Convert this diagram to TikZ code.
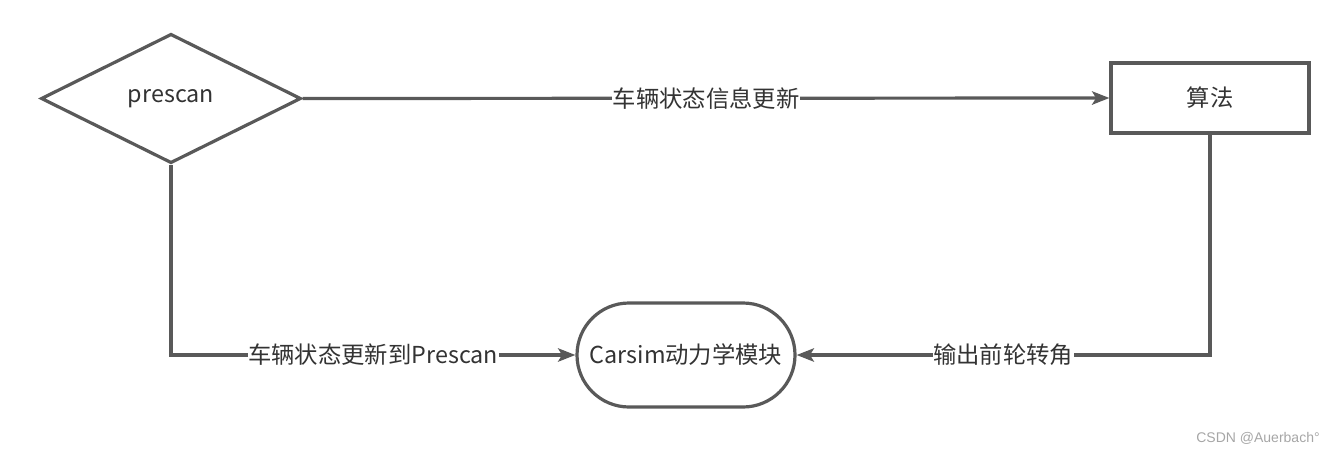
\documentclass[tikz,border=0pt]{standalone}
\usepackage{fontspec}
\setmainfont{Noto Sans CJK SC}
\newfontfamily\markfont{Liberation Sans}
\usepackage{xcolor}
\usetikzlibrary{
    shapes.geometric,
    arrows.meta,
    positioning
}
\definecolor{linegray}{HTML}{595959}
\definecolor{textgray}{HTML}{333333}

\begin{document}
\begin{tikzpicture}[
    x=0.75pt, y=-0.75pt,
    base/.style={
        draw=linegray,
        line width=2.4pt,
        fill=white,
        text=textgray,
        align=center,
        font=\fontsize{17.5}{21}\selectfont
    },
    decision/.style={
        base,
        diamond,
        aspect=2,
        inner sep=0pt,
        minimum width=195pt,
        minimum height=97pt
    },
    process/.style={
        base,
        rectangle,
        minimum width=148.5pt,
        minimum height=52.5pt
    },
    terminal/.style={
        base,
        rectangle,
        rounded corners=39pt,
        minimum width=163.5pt,
        minimum height=78pt
    },
    label/.style={
        fill=white,
        text=textgray,
        inner sep=0.5pt,
        font=\fontsize{17.5}{21}\selectfont
    },
    arrow/.style={
        draw=linegray,
        line width=2.4pt,
        -{Stealth[length=13pt, width=10pt, inset=3pt]}
    }
]
\useasboundingbox (0,0) rectangle (1333,454);

% Blocks
\node[decision] (prescan) at (171, 98.5) {prescan};
\node[process] (algo) at (1210, 98) {算法};
\node[terminal] (carsim) at (686, 355) {Carsim动力学模块};

% Corners of the feedback paths
\coordinate (cl) at (prescan.south |- carsim.west);
\coordinate (cr) at (algo.south |- carsim.east);

% Arrows
\draw[arrow] (prescan.east) -- node[label] {车辆状态信息更新} (algo.west);
\draw[arrow] (prescan.south) -- (cl) -- node[label] {车辆状态更新到Prescan} (carsim.west);
\draw[arrow] (algo.south) -- (cr) -- node[label] {输出前轮转角} (carsim.east);

% Watermark
\node[text=gray!70, font=\markfont\fontsize{10.5}{12}\selectfont] (mark) at (1258, 438) {CSDN @Auerbach°};

\end{tikzpicture}
\end{document}
